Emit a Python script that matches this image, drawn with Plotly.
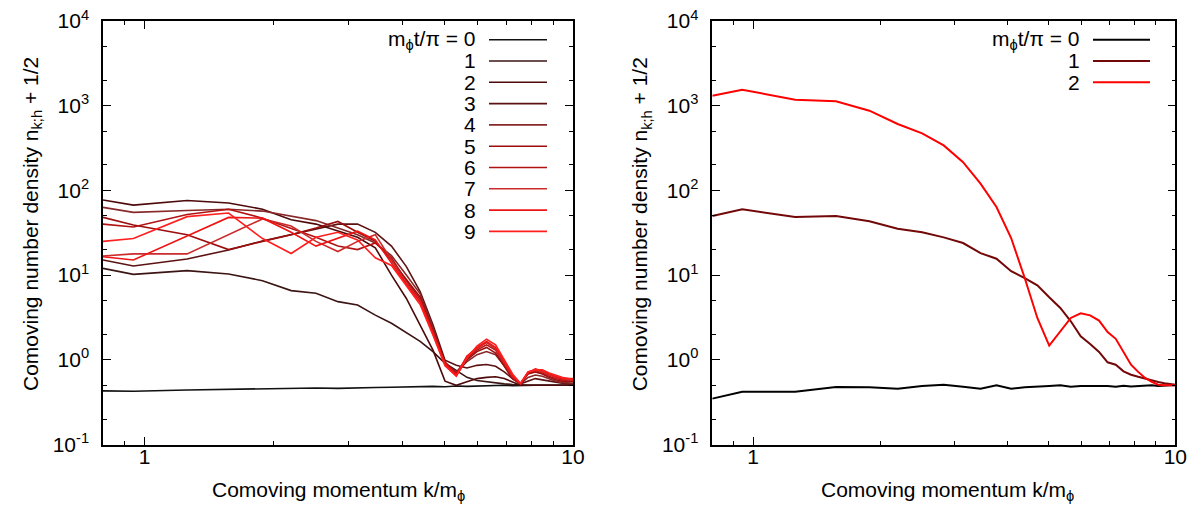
import plotly.graph_objects as go

# ---------------- data ----------------
K = [0.8, 0.942, 1.257, 1.571, 1.885, 2.199, 2.513, 2.827, 3.142, 3.456, 3.770,
     4.084, 4.398, 4.712, 5.027, 5.341, 5.655, 5.969, 6.283, 6.597, 6.912, 7.226,
     7.540, 7.854, 8.168, 8.482, 8.796, 9.111, 9.425, 9.739, 10.0]

# left panel: m_phi t / pi = 0..9
L0 = [0.43, 0.425, 0.44, 0.45, 0.455, 0.46, 0.465, 0.46, 0.47, 0.47, 0.475, 0.48, 0.475, 0.485, 0.48, 0.49,
      0.485, 0.49, 0.495, 0.49, 0.5, 0.495, 0.5, 0.5, 0.5, 0.5, 0.5, 0.5, 0.5, 0.5, 0.5]
L1 = [12.0, 10.2, 11.3, 10.3, 8.6, 6.56, 6.1, 4.86, 4.43, 3.37, 2.7, 2.1, 1.65, 1.25, 0.91, 0.75,
      0.62, 0.57, 0.55, 0.53, 0.52, 0.51, 0.5, 0.5, 0.5, 0.5, 0.5, 0.5, 0.5, 0.5, 0.5]
L2 = [77, 67, 76, 71, 60, 45, 40, 33, 28, 21, 10, 5.3, 2.6, 1.3, 0.56, 0.50,
      0.55, 0.6, 0.62, 0.63, 0.6, 0.55, 0.5, 0.5, 0.5, 0.5, 0.5, 0.5, 0.5, 0.5, 0.5]
L3 = [15.1, 12.8, 15.5, 19.8, 25.3, 30, 35, 40, 40, 32, 22, 12.6, 6.4, 2.6, 0.99, 0.86,
      0.8, 0.86, 0.88, 0.84, 0.72, 0.6, 0.52, 0.56, 0.6, 0.58, 0.56, 0.54, 0.53, 0.52, 0.52]
L4 = [63, 55, 58, 60, 57, 50, 44, 36, 30, 24, 17, 10, 6.0, 2.4, 0.9, 0.72,
      0.95, 1.15, 1.25, 1.15, 0.85, 0.6, 0.52, 0.62, 0.66, 0.64, 0.6, 0.56, 0.54, 0.53, 0.53]
L5 = [48, 39, 30, 20, 25, 30, 36, 43, 32, 25, 15, 9.0, 5.5, 2.2, 0.95, 0.66,
      1.0, 1.25, 1.4, 1.2, 0.85, 0.6, 0.52, 0.68, 0.72, 0.68, 0.62, 0.58, 0.56, 0.56, 0.56]
L6 = [40, 37, 52, 60, 47, 36, 28, 22, 20, 24, 16, 8.5, 5.2, 2.1, 0.92, 0.7,
      1.05, 1.3, 1.5, 1.3, 0.9, 0.62, 0.52, 0.7, 0.75, 0.7, 0.64, 0.6, 0.58, 0.57, 0.57]
L7 = [16.8, 17.8, 17.8, 30, 46, 38, 25, 19, 25, 30, 15, 8.0, 5.0, 2.0, 0.88, 0.65,
      1.1, 1.35, 1.6, 1.35, 0.92, 0.63, 0.52, 0.72, 0.76, 0.72, 0.66, 0.62, 0.6, 0.58, 0.58]
L8 = [16.5, 15.1, 29, 48, 47, 32, 22, 27, 33, 26, 14, 7.8, 4.8, 2.1, 0.9, 0.66,
      1.1, 1.4, 1.65, 1.4, 0.95, 0.65, 0.52, 0.7, 0.78, 0.74, 0.68, 0.64, 0.6, 0.6, 0.6]
L9 = [25, 27, 49, 54, 27, 18, 28, 32, 26, 16, 13, 7.5, 4.5, 1.95, 0.85, 0.64,
      1.05, 1.45, 1.75, 1.5, 1.0, 0.68, 0.53, 0.72, 0.76, 0.76, 0.7, 0.66, 0.62, 0.6, 0.58]
LEFT_SERIES = [L0, L1, L2, L3, L4, L5, L6, L7, L8, L9]
LEFT_LABELS = ["m<sub>ϕ</sub>t/π = 0", "1", "2", "3", "4", "5", "6", "7", "8", "9"]
LEFT_COLORS = ["#111111", "#3b1414", "#4d0a0a", "#5c1212", "#882828",
               "#9c0d0d", "#b31212", "#cc2b2b", "#ee1414", "#ff1f1f"]

# right panel: m_phi t / pi = 0, 1, 2
R0 = [0.348, 0.42, 0.42, 0.477, 0.473, 0.456, 0.491, 0.508, 0.48, 0.456, 0.50, 0.456, 0.475, 0.478, 0.49, 0.50,
      0.482, 0.49, 0.49, 0.482, 0.49, 0.48, 0.495, 0.485, 0.49, 0.50, 0.50, 0.49, 0.50, 0.50, 0.50]
R1 = [49.9, 59.8, 48.5, 49.9, 43.2, 35.3, 32.0, 27.9, 23.9, 18.2, 15.6, 11.1, 9.24, 7.57, 5.47, 4.09,
      2.85, 1.89, 1.54, 1.24, 0.935, 0.875, 0.731, 0.667, 0.63, 0.598, 0.57, 0.547, 0.53, 0.515, 0.508]
R2 = [1312, 1545, 1178, 1128, 873, 608, 472, 340, 215, 120, 63.6, 27.4, 9.24, 3.12, 1.47, 2.2,
      3.12, 3.54, 3.35, 2.90, 2.13, 1.77, 1.25, 0.875, 0.72, 0.61, 0.55, 0.508, 0.50, 0.50, 0.50]
RIGHT_SERIES = [R0, R1, R2]
RIGHT_LABELS = ["m<sub>ϕ</sub>t/π = 0", "1", "2"]
RIGHT_COLORS = ["#000000", "#730808", "#ff0000"]

X_MAJOR = [1, 10]
X_MAJOR_TEXT = ["1", "10"]
X_MINOR = [0.9, 2, 3, 4, 5, 6, 7, 8, 9]
Y_MAJOR = [0.1, 1, 10, 100, 1000, 10000]
Y_MAJOR_TEXT = ["10<sup>-1</sup>", "10<sup>0</sup>", "10<sup>1</sup>", "10<sup>2</sup>",
                "10<sup>3</sup>", "10<sup>4</sup>"]
Y_MINOR = [0.2, 0.5, 2, 5, 20, 50, 200, 500, 2000, 5000]

XTITLE = "Comoving momentum k/m<sub>ϕ</sub>"
YTITLE = "Comoving number density n<sub>k;h</sub> + 1/2"

# ---------------- figure ----------------
W, H = 1202, 508
FONT = "Liberation Sans, Arial, sans-serif"
FS = 21

fig = go.Figure()
for ys, c in zip(LEFT_SERIES, LEFT_COLORS):
    fig.add_trace(go.Scatter(x=K, y=ys, mode="lines", line=dict(color=c, width=1.6),
                             xaxis="x", yaxis="y", showlegend=False))
for ys, c in zip(RIGHT_SERIES, RIGHT_COLORS):
    fig.add_trace(go.Scatter(x=K, y=ys, mode="lines", line=dict(color=c, width=2),
                             xaxis="x2", yaxis="y2", showlegend=False))

left_dom = [95 / W, 565 / W]
right_dom = [704.3 / W, 1167.3 / W]
y_dom = [1 - 436.5 / H, 1 - 13 / H]


def xaxis(dom, anchor):
    return dict(domain=dom, anchor=anchor, type="log", range=[-0.09691, 1],
                tickmode="array", tickvals=X_MAJOR, ticktext=X_MAJOR_TEXT,
                ticks="inside", ticklen=8, tickwidth=1.2, tickcolor="black",
                minor=dict(tickmode="array", tickvals=X_MINOR, ticks="inside", ticklen=4,
                           tickwidth=1.2, tickcolor="black"),
                showline=True, linecolor="black", linewidth=1.5, mirror="ticks",
                showgrid=False, zeroline=False, automargin=False,
                ticklabelstandoff=-7, ticklabeloverflow="allow",
                tickfont=dict(family=FONT, size=FS, color="black"))


def yaxis(anchor):
    return dict(domain=y_dom, anchor=anchor, type="log", range=[-1, 4],
                tickmode="array", tickvals=Y_MAJOR, ticktext=Y_MAJOR_TEXT,
                ticks="inside", ticklen=8, tickwidth=1.2, tickcolor="black",
                minor=dict(tickmode="array", tickvals=Y_MINOR, ticks="inside", ticklen=4,
                           tickwidth=1.2, tickcolor="black"),
                showline=True, linecolor="black", linewidth=1.5, mirror="ticks",
                showgrid=False, zeroline=False, automargin=False,
                ticklabelstandoff=8, ticklabeloverflow="allow",
                tickfont=dict(family=FONT, size=FS, color="black"))


annotations = []
shapes = []


# custom key (text right, sample line to the right) as in the original
def add_key(labels, colors, xref, yref, text_x, line_x0, line_x1, lw):
    for i, (lab, col) in enumerate(zip(labels, colors)):
        py = 31.7 + 21.3 * i
        yf = (436.5 - py) / 423.5
        annotations.append(dict(text=lab, xref=xref, yref=yref, x=text_x, y=yf,
                                xanchor="right", yanchor="middle", showarrow=False,
                                font=dict(family=FONT, size=FS, color="black")))
        shapes.append(dict(type="line", xref=xref, yref=yref, x0=line_x0, x1=line_x1,
                           y0=yf, y1=yf, line=dict(color=col, width=lw)))


add_key(LEFT_LABELS, LEFT_COLORS, "x domain", "y domain",
        (470 - 95) / 470, (481 - 95) / 470, (539 - 95) / 470, 1.6)
add_key(RIGHT_LABELS, RIGHT_COLORS, "x2 domain", "y2 domain",
        (1074 - 704.3) / 463, (1085 - 704.3) / 463, (1142 - 704.3) / 463, 2)

# axis titles
for xc in (330, 330 + 609.3):
    annotations.append(dict(text=XTITLE, xref="paper", yref="paper", x=xc / W, y=1 - 483 / H,
                            xanchor="center", yanchor="middle", showarrow=False,
                            font=dict(family=FONT, size=FS, color="black")))
for xc in (24, 24 + 609.3):
    annotations.append(dict(text=YTITLE, xref="paper", yref="paper", x=xc / W, y=1 - 216 / H,
                            xanchor="center", yanchor="middle", showarrow=False, textangle=-90,
                            font=dict(family=FONT, size=FS, color="black")))

fig.update_layout(
    width=W, height=H,
    margin=dict(l=0, r=0, t=0, b=0),
    paper_bgcolor="white", plot_bgcolor="white",
    template="none",
    xaxis=xaxis(left_dom, "y"),
    yaxis=yaxis("x"),
    xaxis2=xaxis(right_dom, "y2"),
    yaxis2=yaxis("x2"),
    annotations=annotations,
    shapes=shapes,
    showlegend=False,
    font=dict(family=FONT, size=FS, color="black"),
)

fig.write_html("out.html")
